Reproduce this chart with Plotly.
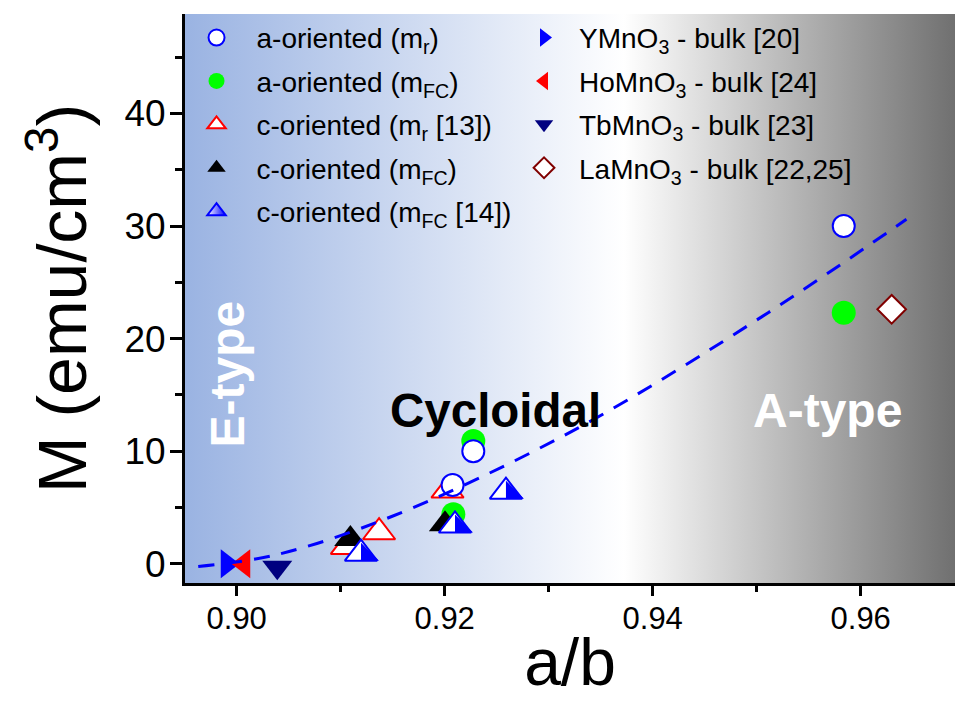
import plotly.graph_objects as go

# ---------------- data ----------------
a_mr_x = [0.92076, 0.92275, 0.95837]          # a-oriented (m_r)
a_mr_y = [7.0, 10.0, 30.0]
a_mfc_x = [0.92083, 0.92275, 0.95837]         # a-oriented (m_FC)
a_mfc_y = [4.4, 10.9, 22.3]
c_mr13_x = [0.9106, 0.91369, 0.92027]         # c-oriented (m_r [13])
c_mr13_y = [1.5, 2.8, 6.5]
c_mfc_x = [0.91093, 0.92003]                  # c-oriented (m_FC)
c_mfc_y = [2.2, 3.5]
c_mfc14_x = [0.91195, 0.92099, 0.92589]       # c-oriented (m_FC [14])
c_mfc14_y = [0.9, 3.4, 6.4]
ymno3_x = [0.89907]; ymno3_y = [0.0]          # YMnO3 bulk [20]
homno3_x = [0.9007]; homno3_y = [0.0]         # HoMnO3 bulk [24]
tbmno3_x = [0.9039]; tbmno3_y = [-0.3]        # TbMnO3 bulk [23]
lamno3_x = [0.96298]; lamno3_y = [22.6]       # LaMnO3 bulk [22,25]
fit_x = [0.8963, 0.9038, 0.9149, 0.9324, 0.9511, 0.9644]   # dashed guide line
fit_y = [-0.24, 0.8, 4.2, 11.85, 22.3, 30.6]

x_ticks = [0.90, 0.92, 0.94, 0.96]
y_ticks = [0, 10, 20, 30, 40]

# ---------------- layout geometry ----------------
W, H = 955, 707
ML, MR, MT, MB = 185, 0, 14, 124
PW, PH = W - ML - MR, H - MT - MB
XR = [0.895029, 0.969067]
YR = [-1.707, 48.83]
ppx = PW / (XR[1] - XR[0])
ppy = PH / (YR[1] - YR[0])

FONT = "Liberation Sans, Arial, sans-serif"

BLUE, RED, GREEN, NAVY, DRED = "#0000ff", "#ff0000", "#00ff00", "#000080", "#800000"

fig = go.Figure()

# background gradient
fig.add_trace(go.Scatter(
    x=[XR[0], XR[1], XR[1], XR[0], XR[0]], y=[YR[0], YR[0], YR[1], YR[1], YR[0]],
    mode="none", fill="toself",
    fillgradient=dict(type="horizontal",
                      colorscale=[[0, "#9ab3e2"], [0.57, "#ffffff"], [1, "#707070"]]),
    showlegend=False, hoverinfo="skip"))

TS = 28  # up-triangle size

fig.add_trace(go.Scatter(
    x=a_mfc_x, y=a_mfc_y, mode="markers", name="a-oriented (m<sub>FC</sub>)",
    marker=dict(symbol="circle", size=24, color=GREEN, line=dict(width=0)),
    legend="legend", legendgroup="g2", legendrank=2))
fig.add_trace(go.Scatter(
    x=c_mr13_x, y=c_mr13_y, mode="markers", name="c-oriented (m<sub>r</sub> [13])",
    marker=dict(symbol="triangle-up", size=TS, color="white", line=dict(width=2, color=RED)),
    legend="legend", legendgroup="g3", legendrank=3))
fig.add_trace(go.Scatter(
    x=a_mr_x, y=a_mr_y, mode="markers", name="a-oriented (m<sub>r</sub>)",
    marker=dict(symbol="circle", size=22, color="white", line=dict(width=2, color=BLUE)),
    legend="legend", legendgroup="g1", legendrank=1))
fig.add_trace(go.Scatter(
    x=c_mfc_x, y=c_mfc_y, mode="markers", name="c-oriented (m<sub>FC</sub>)",
    marker=dict(symbol="triangle-up", size=TS, color="black", line=dict(width=0)),
    legend="legend", legendgroup="g4", legendrank=4))
# half-filled triangle: white base with blue outline ...
fig.add_trace(go.Scatter(
    x=c_mfc14_x, y=c_mfc14_y, mode="markers", name="c-oriented (m<sub>FC</sub> [14])",
    marker=dict(symbol="triangle-up", size=TS, color="white", line=dict(width=2, color=BLUE)),
    showlegend=False, legendgroup="g5"))
# ... legend entry for it
fig.add_trace(go.Scatter(
    x=[None], y=[None], mode="markers", name="c-oriented (m<sub>FC</sub> [14])",
    marker=dict(symbol="triangle-up", size=TS, color="white", line=dict(width=2, color=BLUE),
                gradient=dict(type="horizontal", color=BLUE)),
    legend="legend", legendgroup="g5", legendrank=5))
# ... and the blue right half, drawn on offset overlay axes (same data)
fig.add_trace(go.Scatter(
    x=c_mfc14_x, y=c_mfc14_y, mode="markers", xaxis="x3", yaxis="y3",
    marker=dict(symbol="triangle-sw", size=20, color=BLUE, line=dict(width=0)),
    showlegend=False, hoverinfo="skip"))

fig.add_trace(go.Scatter(
    x=ymno3_x, y=ymno3_y, mode="markers", name="YMnO<sub>3</sub> - bulk [20]",
    marker=dict(symbol="triangle-right", size=25, color=BLUE, line=dict(width=0)),
    legend="legend2", legendgroup="h1", legendrank=1))
fig.add_trace(go.Scatter(
    x=homno3_x, y=homno3_y, mode="markers", name="HoMnO<sub>3</sub> - bulk [24]",
    marker=dict(symbol="triangle-left", size=25, color=RED, line=dict(width=0)),
    legend="legend2", legendgroup="h2", legendrank=2))
fig.add_trace(go.Scatter(
    x=tbmno3_x, y=tbmno3_y, mode="markers", name="TbMnO<sub>3</sub> - bulk [23]",
    marker=dict(symbol="triangle-down", size=26, color=NAVY, line=dict(width=0)),
    legend="legend2", legendgroup="h3", legendrank=3))
fig.add_trace(go.Scatter(
    x=lamno3_x, y=lamno3_y, mode="markers", name="LaMnO<sub>3</sub> - bulk [22,25]",
    marker=dict(symbol="diamond", size=22, color="white", line=dict(width=2, color=DRED)),
    legend="legend2", legendgroup="h4", legendrank=4))

fig.add_trace(go.Scatter(
    x=fit_x, y=fit_y, mode="lines",
    line=dict(color=BLUE, width=3, dash="16px,12px", shape="spline"),
    showlegend=False, hoverinfo="skip"))

axis_common = dict(showgrid=False, zeroline=False, linecolor="black", linewidth=3,
                   tickcolor="black", tickwidth=3, automargin=False)

# pixel offsets (right, up) of the blue half-triangle centre relative to the marker centre
DX_PX, DY_PX = 6.0, -1.0

legend_common = dict(xanchor="left", yanchor="top", bgcolor="rgba(0,0,0,0)",
                     borderwidth=0, font=dict(family=FONT, size=28, color="black"),
                     tracegroupgap=4, itemsizing="trace", itemclick=False)

fig.update_layout(
    width=W, height=H, margin=dict(l=ML, r=MR, t=MT, b=MB, pad=0),
    paper_bgcolor="white", plot_bgcolor="white",
    font=dict(family=FONT, color="black"),
    xaxis=dict(range=XR, tickvals=x_ticks, tickformat=".2f", ticks="outside", ticklen=10,
               showline=True, mirror=False, ticklabelstandoff=-4,
               tickfont=dict(family=FONT, size=31),
               minor=dict(dtick=0.01, tick0=0.90, ticks="outside", ticklen=6,
                          tickwidth=3, tickcolor="black", showgrid=False),
               title=dict(text="a/b", font=dict(family=FONT, size=66), standoff=4),
               **axis_common),
    yaxis=dict(range=YR, tickvals=y_ticks, ticks="outside", ticklen=12,
               showline=True, mirror=False, ticklabelstandoff=-3,
               tickfont=dict(family=FONT, size=37),
               minor=dict(dtick=5, tick0=0, ticks="outside", ticklen=7,
                          tickwidth=3, tickcolor="black", showgrid=False),
               title=dict(text="M (emu/cm<sup>3</sup>)", font=dict(family=FONT, size=68),
                          standoff=16),
               **axis_common),
    xaxis2=dict(range=XR, overlaying="x", side="top", anchor="y", tick0=0.90, dtick=0.01,
                ticks="inside", ticklen=6, showticklabels=False, showline=True,
                **axis_common),
    yaxis2=dict(range=YR, overlaying="y", side="right", anchor="x", tick0=0, dtick=10,
                ticks="inside", ticklen=6, showticklabels=False, showline=True,
                **axis_common),
    xaxis3=dict(range=[XR[0] - DX_PX / ppx, XR[1] - DX_PX / ppx], overlaying="x",
                anchor="y3", visible=False),
    yaxis3=dict(range=[YR[0] - DY_PX / ppy, YR[1] - DY_PX / ppy], overlaying="y",
                anchor="x3", visible=False),
    legend=dict(x=-0.011, y=1.002, itemwidth=70, **legend_common),
    legend2=dict(x=0.4208, y=1.002, itemwidth=60, **legend_common),
    annotations=[
        dict(x=0.89916, y=16.9, xref="x", yref="y", text="<b>E-type</b>", textangle=-90,
             showarrow=False, font=dict(family=FONT, size=48, color="white")),
        dict(x=0.92484, y=13.6, xref="x", yref="y", text="<b>Cycloidal</b>",
             showarrow=False, font=dict(family=FONT, size=47.5, color="black")),
        dict(x=0.95685, y=13.6, xref="x", yref="y", text="<b>A-type</b>",
             showarrow=False, font=dict(family=FONT, size=48, color="white")),
    ],
)

fig.write_html("out.html")
